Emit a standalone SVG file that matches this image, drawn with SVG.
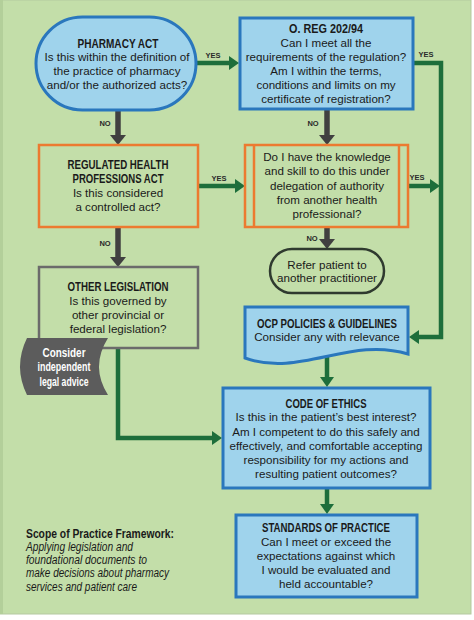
<svg xmlns="http://www.w3.org/2000/svg" width="474" height="620" viewBox="0 0 474 620">
<style>
text{font-family:"Liberation Sans",Arial,sans-serif;fill:#1a1a1a;text-anchor:middle;font-size:11.6px}
.t{font-weight:bold;font-size:12.5px}
.lbl{font-size:7.5px;font-weight:bold;fill:#2a2a2a}
.blue{fill:#9fd3ec;stroke:#2a77bd;stroke-width:3}
.orange{fill:#c3dea9;stroke:#ec7a30;stroke-width:2.5}
.g{fill:none;stroke:#1d6e3b;stroke-width:4.5}
.k{fill:none;stroke:#404040;stroke-width:5.5}
.wt{fill:#ffffff;font-weight:bold;font-size:12.5px}
.it{font-style:italic;font-size:12px;text-anchor:start}
</style>
<defs>
<marker id="ag" markerUnits="userSpaceOnUse" viewBox="0 0 10 14" markerWidth="10" markerHeight="14" refX="4" refY="7" orient="auto"><path d="M0,0 L10,7 L0,14 Z" fill="#1d6e3b"/></marker>
<marker id="ak" markerUnits="userSpaceOnUse" viewBox="0 0 10 16" markerWidth="10" markerHeight="16" refX="4" refY="8" orient="auto"><path d="M0,0 L10,8 L0,16 Z" fill="#404040"/></marker>
</defs>
<rect x="0" y="0" width="474" height="620" fill="#ffffff"/>
<rect x="0" y="0" width="471" height="614" fill="#c3dea9" stroke="#b4c9a0" stroke-width="1"/>
<rect x="0" y="0" width="3" height="614" fill="#b3cf9a"/>

<g id="connectors">
<path class="g" d="M196,63 H233" marker-end="url(#ag)"/>
<path class="g" d="M413,63 H441 V337 H415" marker-end="url(#ag)"/>
<path class="k" d="M118,110 V139" marker-end="url(#ak)"/>
<path class="k" d="M327,109 V139" marker-end="url(#ak)"/>
<path class="g" d="M198,186 H239" marker-end="url(#ag)"/>
<path class="g" d="M408,186 H434" marker-end="url(#ag)"/>
<path class="k" d="M327,227 V243" marker-end="url(#ak)"/>
<path class="k" d="M118,227 V261" marker-end="url(#ak)"/>
<path class="g" d="M118,348 V438 H216" marker-end="url(#ag)"/>
<path class="g" d="M327,357 V381" marker-end="url(#ag)"/>
<path class="g" d="M327,488 V508" marker-end="url(#ag)"/>
<text class="lbl" x="213" y="58">YES</text>
<text class="lbl" x="426" y="57">YES</text>
<text class="lbl" x="219" y="181">YES</text>
<text class="lbl" x="417" y="180">YES</text>
<text class="lbl" x="105" y="126">NO</text>
<text class="lbl" x="313" y="126">NO</text>
<text class="lbl" x="105" y="246">NO</text>
<text class="lbl" x="312" y="241">NO</text>
</g>

<g id="pharmacy-act">
<rect class="blue" x="36" y="17" width="160" height="93" rx="46.5"/>
<text class="t" x="118" y="47.5" textLength="81" lengthAdjust="spacingAndGlyphs">PHARMACY ACT</text>
<text x="117" y="61">Is this within the definition of</text>
<text x="117" y="75">the practice of pharmacy</text>
<text x="117" y="89">and/or the authorized acts?</text>
</g>

<g id="oreg">
<rect class="blue" x="240" y="18" width="173" height="91"/>
<text class="t" x="326" y="32.5" textLength="74" lengthAdjust="spacingAndGlyphs">O. REG 202/94</text>
<text x="326" y="47">Can I meet all the</text>
<text x="326" y="61">requirements of the regulation?</text>
<text x="326" y="75">Am I within the terms,</text>
<text x="326" y="89">conditions and limits on my</text>
<text x="326" y="103">certificate of registration?</text>
</g>

<g id="rhpa">
<rect class="orange" x="39" y="145" width="159" height="82"/>
<text class="t" x="118" y="168.5" textLength="101" lengthAdjust="spacingAndGlyphs">REGULATED HEALTH</text>
<text class="t" x="118" y="182.5" textLength="91" lengthAdjust="spacingAndGlyphs">PROFESSIONS ACT</text>
<text x="118" y="197">Is this considered</text>
<text x="118" y="211">a controlled act?</text>
</g>

<g id="delegation">
<rect class="orange" x="245" y="145" width="163" height="82"/>
<line x1="254" y1="145" x2="254" y2="227" stroke="#ec7a30" stroke-width="2.5"/>
<line x1="399" y1="145" x2="399" y2="227" stroke="#ec7a30" stroke-width="2.5"/>
<text x="327" y="161">Do I have the knowledge</text>
<text x="327" y="175">and skill to do this under</text>
<text x="327" y="190">delegation of authority</text>
<text x="327" y="204">from another health</text>
<text x="327" y="218">professional?</text>
</g>

<g id="refer">
<rect x="270" y="249" width="114" height="44" rx="22" fill="#c3dea9" stroke="#2f3a2f" stroke-width="2.5"/>
<text x="327" y="269">Refer patient to</text>
<text x="327" y="282">another practitioner</text>
</g>

<g id="other-legislation">
<rect x="39" y="267" width="159" height="81" fill="#c3dea9" stroke="#6b6b6b" stroke-width="2.5"/>
<text class="t" x="118" y="290.5" textLength="101" lengthAdjust="spacingAndGlyphs">OTHER LEGISLATION</text>
<text x="118" y="305">Is this governed by</text>
<text x="118" y="319">other provincial or</text>
<text x="118" y="333">federal legislation?</text>
</g>

<g id="legal-advice">
<path d="M27,338 H108 Q90,366.5 108,395 H27 Q13,366.5 27,338 Z" fill="#5c5c5c"/>
<text class="wt" x="64" y="356.5" textLength="43" lengthAdjust="spacingAndGlyphs">Consider</text>
<text class="wt" x="64" y="371" textLength="53" lengthAdjust="spacingAndGlyphs">independent</text>
<text class="wt" x="64" y="385.5" textLength="49" lengthAdjust="spacingAndGlyphs">legal advice</text>
</g>

<g id="ocp">
<path class="blue" d="M245,307 H408 V354 C350,336 300,378 245,358 Z"/>
<text class="t" x="327" y="327.5" textLength="140" lengthAdjust="spacingAndGlyphs">OCP POLICIES &amp; GUIDELINES</text>
<text x="327" y="341">Consider any with relevance</text>
</g>

<g id="code-of-ethics">
<rect class="blue" x="223" y="388" width="207" height="100"/>
<text class="t" x="326" y="407.5" textLength="81" lengthAdjust="spacingAndGlyphs">CODE OF ETHICS</text>
<text x="326" y="421">Is this in the patient’s best interest?</text>
<text x="326" y="436">Am I competent to do this safely and</text>
<text x="326" y="450">effectively, and comfortable accepting</text>
<text x="326" y="464">responsibility for my actions and</text>
<text x="326" y="478">resulting patient outcomes?</text>
</g>

<g id="standards">
<rect class="blue" x="236" y="515" width="181" height="82"/>
<text class="t" x="326" y="531.5" textLength="128" lengthAdjust="spacingAndGlyphs">STANDARDS OF PRACTICE</text>
<text x="326" y="546">Can I meet or exceed the</text>
<text x="326" y="560">expectations against which</text>
<text x="326" y="574">I would be evaluated and</text>
<text x="326" y="588">held accountable?</text>
</g>

<g id="scope-note">
<text class="t" x="26" y="537.5" style="text-anchor:start" textLength="148" lengthAdjust="spacingAndGlyphs">Scope of Practice Framework:</text>
<text class="it" x="26" y="551" textLength="107" lengthAdjust="spacingAndGlyphs">Applying legislation and</text>
<text class="it" x="26" y="564" textLength="121" lengthAdjust="spacingAndGlyphs">foundational documents to</text>
<text class="it" x="26" y="577" textLength="143" lengthAdjust="spacingAndGlyphs">make decisions about pharmacy</text>
<text class="it" x="26" y="591" textLength="111" lengthAdjust="spacingAndGlyphs">services and patient care</text>
</g>
</svg>
